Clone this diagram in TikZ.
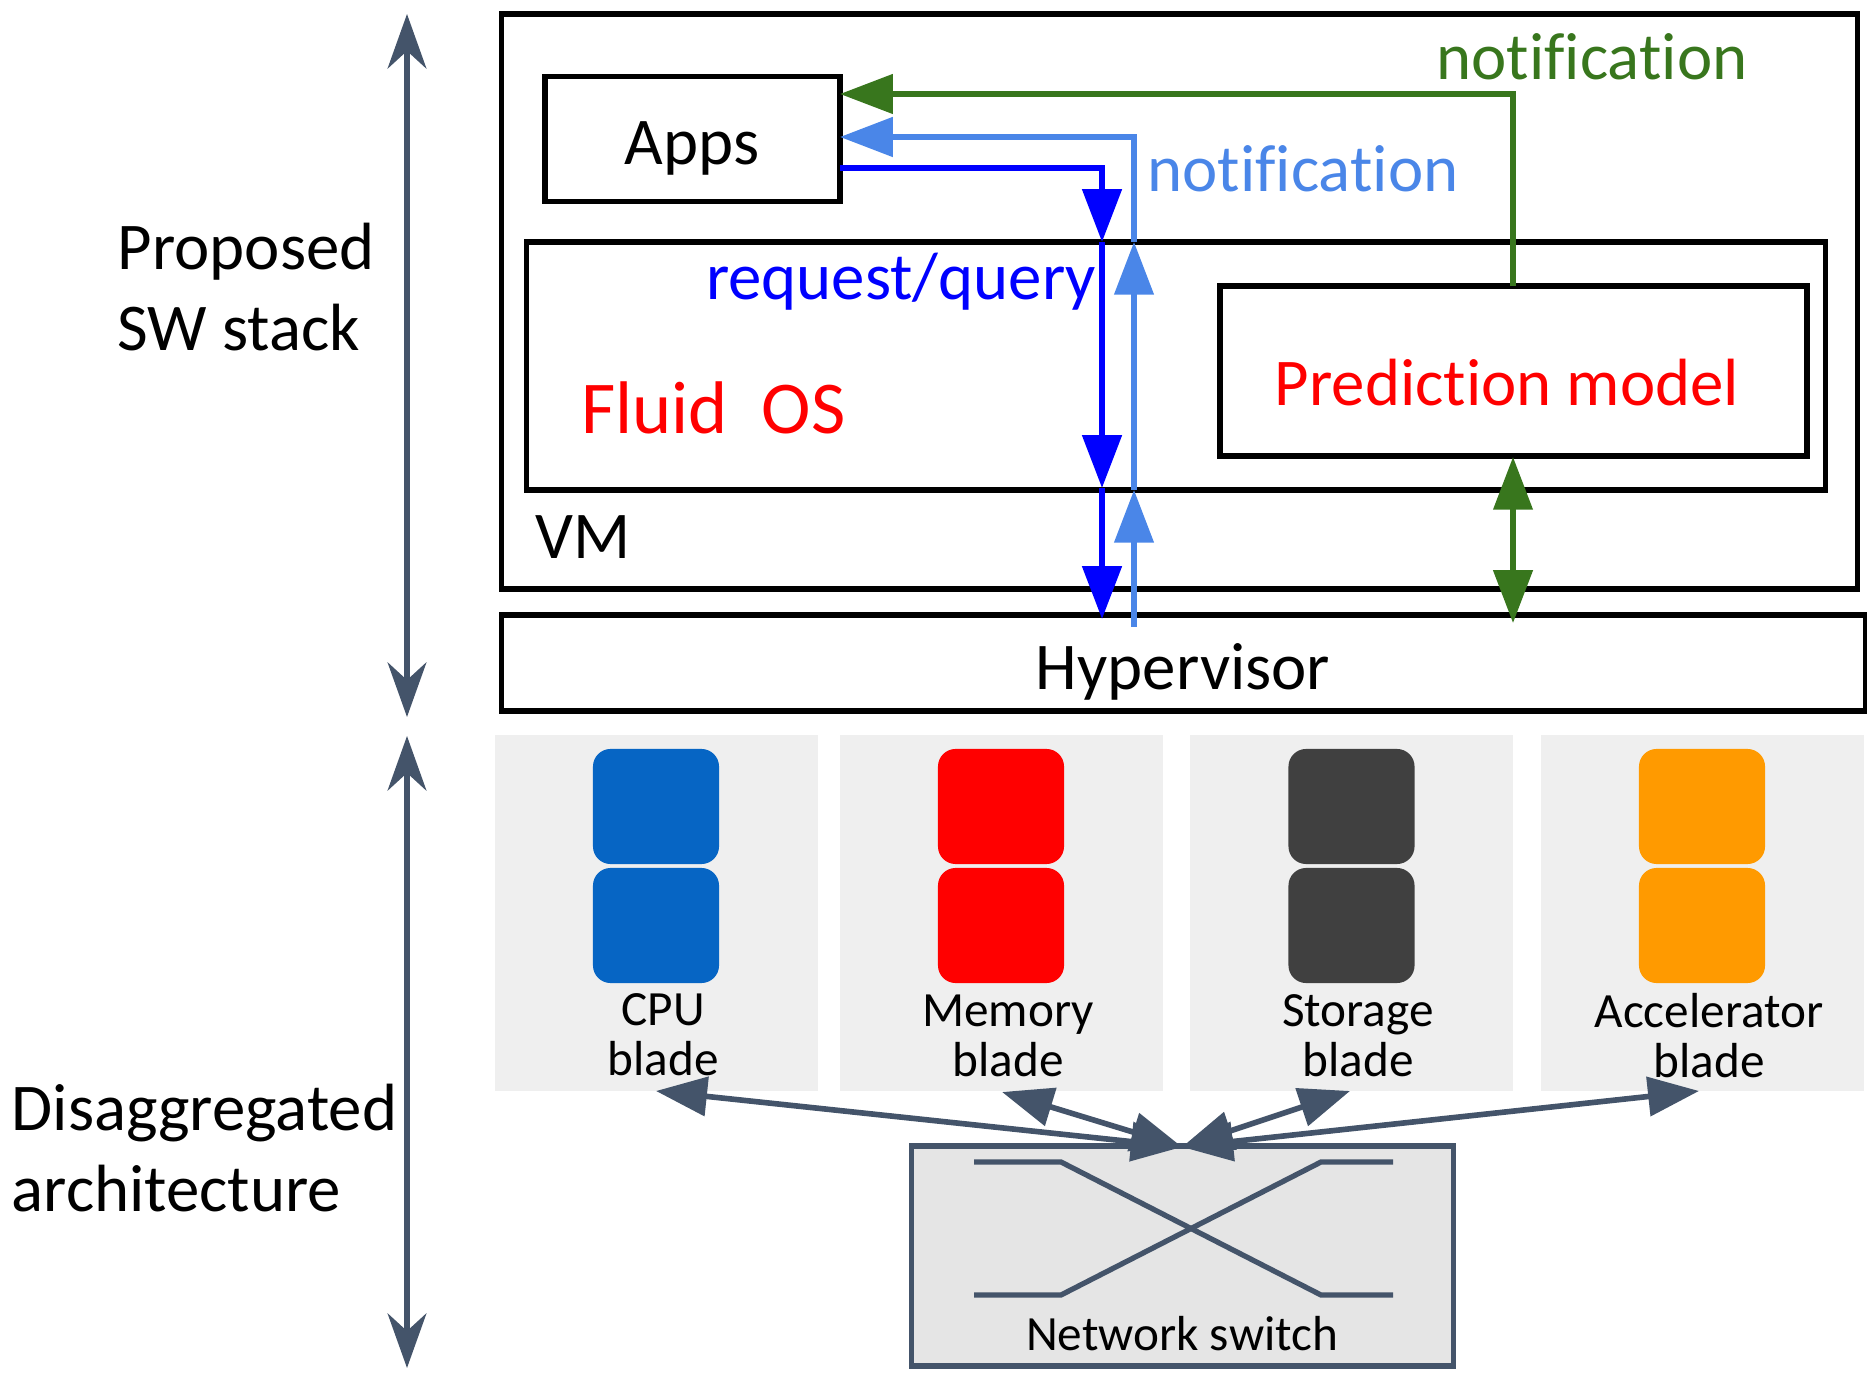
\documentclass[tikz,border=0pt]{standalone}
\usepackage{fontspec}
\setmainfont{Carlito}[Ligatures=NoCommon]
\usepackage{xcolor}
\usetikzlibrary{arrows.meta,positioning}
\definecolor{slate}{HTML}{44546A}
\definecolor{grass}{HTML}{38761D}
\definecolor{sky}{HTML}{4A86E8}
\definecolor{panelgray}{HTML}{EFEFEF}
\definecolor{switchgray}{HTML}{E5E5E5}
\definecolor{cpublue}{HTML}{0665C4}
\definecolor{diskgray}{HTML}{404040}
\definecolor{accelorange}{HTML}{FF9A00}

\begin{document}
\begin{tikzpicture}[
    x=0.01cm, y=-0.01cm,
    swbox/.style={rectangle, draw=black, line width=1.6pt, inner sep=0pt},
    panel/.style={rectangle, fill=panelgray, minimum width=3.22cm, minimum height=3.56cm, inner sep=0pt},
    chip/.style={rectangle, rounded corners=5pt, minimum width=1.26cm, minimum height=1.15cm, inner sep=0pt},
    bladelabel/.style={align=center, font=\fontsize{14}{14.2}\selectfont, inner sep=0pt},
    biglabel/.style={align=left, font=\fontsize{19}{23}\selectfont, inner sep=0pt},
    reqline/.style={draw=blue, line width=1.6pt, -{Triangle[length=15pt,width=11pt]}},
    notifyline/.style={draw=sky, line width=1.6pt, -{Triangle[length=15pt,width=11pt]}},
    predline/.style={draw=grass, line width=1.5pt},
    axisline/.style={draw=slate, line width=1.7pt, {Stealth[length=15.5pt,width=11pt,inset=5pt]}-{Stealth[length=15.5pt,width=11pt,inset=5pt]}},
    bladelink/.style={draw=slate, line width=1.6pt, {Triangle[length=14.5pt,width=11pt]}-{Triangle[length=14.5pt,width=11pt]}},
]
\useasboundingbox (0,0) rectangle (1867,1386);

% Software stack
\node[swbox, minimum width=13.55cm, minimum height=5.75cm] (vm) at (1179.5,301.5) {};
\node[swbox, minimum width=13.63cm, minimum height=0.96cm] (hypervisor) at (1183.5,663) {};
\node[swbox, minimum width=2.95cm, minimum height=1.25cm] (apps) at (692.5,139) {};
\node[swbox, minimum width=12.98cm, minimum height=2.48cm] (fluidos) at (1176,366) {};
\node[swbox, minimum width=5.87cm, minimum height=1.70cm] (prediction) at (1513.5,371) {};

\node[font=\fontsize{19}{23}\selectfont] (appstext) at (692,148) {Apps};
\node[font=\fontsize{21.2}{26}\selectfont, text=red] (fluidtext) at (713.5,408) {Fluid\ \ OS};
\node[font=\fontsize{19}{23}\selectfont, text=red] (predtext) at (1507,383) {Prediction model};
\node[font=\fontsize{19}{23}\selectfont] (vmtext) at (583,537) {VM};
\node[font=\fontsize{19}{23}\selectfont] (hypertext) at (1183,672) {Hypervisor};
\node[font=\fontsize{19}{23}\selectfont, text=blue] (reqtext) at (901,282) {request/query};
\node[font=\fontsize{19}{23}\selectfont, text=sky] (skytext) at (1303,169) {notification};
\node[font=\fontsize{19}{23}\selectfont, text=grass] (grasstext) at (1592,57) {notification};

% Side labels
\node[biglabel, anchor=west] (stacktext) at (117,287) {Proposed\\SW stack};
\node[biglabel, anchor=west] (disaggtext) at (11,1148) {Disaggregated\\architecture};
\coordinate (stacktop) at (407,14);
\coordinate (stackbot) at (407,717);
\coordinate (hwtop) at (407,736);
\coordinate (hwbot) at (407,1368);
\draw[axisline] (stacktop) -- (stackbot);
\draw[axisline] (hwtop) -- (hwbot);

% Blades
\node[panel] (cpupanel) at (656.5,913) {};
\node[panel] (mempanel) at (1001.5,913) {};
\node[panel] (diskpanel) at (1351.5,913) {};
\node[panel] (accelpanel) at (1702.5,913) {};

\node[chip, fill=cpublue] (cpuA) at (656,806.5) {};
\node[chip, fill=cpublue] (cpuB) at (656,925.5) {};
\node[chip, fill=red] (memA) at (1001,806.5) {};
\node[chip, fill=red] (memB) at (1001,925.5) {};
\node[chip, fill=diskgray] (diskA) at (1351.5,806.5) {};
\node[chip, fill=diskgray] (diskB) at (1351.5,925.5) {};
\node[chip, fill=accelorange] (accelA) at (1702,806.5) {};
\node[chip, fill=accelorange] (accelB) at (1702,925.5) {};

\node[bladelabel] (cputext) at (663,1035) {CPU\\blade};
\node[bladelabel] (memtext) at (1008,1036) {Memory\\blade};
\node[bladelabel] (disktext) at (1358,1036) {Storage\\blade};
\node[bladelabel] (acceltext) at (1709,1035.5) {Accelerator\\blade};

% Network switch
\node[rectangle, draw=slate, fill=switchgray, line width=1.5pt, minimum width=5.41cm, minimum height=2.20cm, inner sep=0pt] (switch) at (1182.5,1256) {};
\node[bladelabel] (switchtext) at (1182,1334) {Network switch};
\coordinate (inA) at (974,1162);
\coordinate (inB) at (974,1295);
\coordinate (outA) at (1393,1162);
\coordinate (outB) at (1393,1295);
\coordinate (bendA) at (1061,1162);
\coordinate (bendB) at (1061,1295);
\coordinate (bendC) at (1321,1162);
\coordinate (bendD) at (1321,1295);
\draw[slate, line width=1.5pt] (inA) -- (bendA) -- (bendD) -- (outB);
\draw[slate, line width=1.5pt] (inB) -- (bendB) -- (bendC) -- (outA);

% Arrows
\coordinate (reqfrom) at (840,168);
\coordinate (reqtop) at (1102,242);
\coordinate (reqmid) at (1102,488);
\coordinate (reqbot) at (1102,619);
\draw[reqline] (reqfrom) -| (reqtop);
\draw[reqline] (reqtop) -- (reqmid);
\draw[reqline] (reqmid) -- (reqbot);

\coordinate (skybot) at (1134,627);
\coordinate (skymid) at (1134,490);
\coordinate (skytop) at (1134,242);
\coordinate (skyto) at (840,137);
\draw[notifyline] (skybot) -- (skymid);
\draw[notifyline] (skymid) -- (skytop);
\draw[notifyline] (skytop) |- (skyto);

\coordinate (predtop) at (1513,286);
\coordinate (predto) at (840,94);
\coordinate (predbot) at (1513,457);
\coordinate (hypertop) at (1513,623);
\draw[predline, -{Triangle[length=15pt,width=11pt]}] (predtop) |- (predto);
\draw[predline, {Triangle[length=15pt,width=11pt]}-{Triangle[length=15pt,width=11pt]}] (predbot) -- (hypertop);

\coordinate (hub) at (1182,1147);
\coordinate (cpulink) at (656,1091);
\coordinate (memlink) at (1002,1092);
\coordinate (disklink) at (1350,1091);
\coordinate (accellink) at (1699,1091);
\draw[bladelink] (cpulink) -- (hub);
\draw[bladelink] (memlink) -- (hub);
\draw[bladelink] (disklink) -- (hub);
\draw[bladelink] (accellink) -- (hub);

\end{tikzpicture}
\end{document}
